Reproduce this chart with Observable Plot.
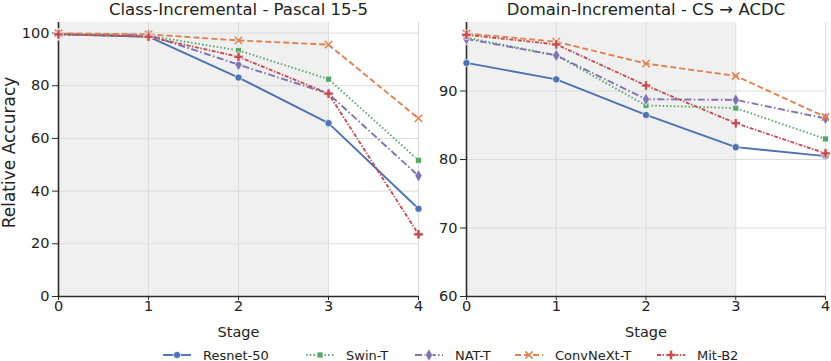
<!DOCTYPE html>
<html><head><meta charset="utf-8">
<script src="https://cdn.jsdelivr.net/npm/d3@7"></script>
<script src="https://cdn.jsdelivr.net/npm/@observablehq/plot@0.6"></script>
<style>
body{margin:0;background:#fff;font-family:"DejaVu Sans",sans-serif;}
#wrap{position:relative;width:831px;height:361px;overflow:hidden;}
#wrap > svg{position:absolute;overflow:visible;}
</style></head><body><div id="wrap"></div>
<script>
// ---- data ----
const stages = [0, 1, 2, 3, 4];
const models = ["Resnet-50", "Swin-T", "NAT-T", "ConvNeXt-T", "Mit-B2"];
const panelTitles = ["Class-Incremental - Pascal 15-5", "Domain-Incremental - CS \u2192 ACDC"];
const shadedStages = [0, 3];

// Class-Incremental - Pascal 15-5
const ciResnet50  = [99.6, 98.6, 83.1, 65.8, 33.3];
const ciSwinT     = [99.8, 99.0, 93.4, 82.5, 51.7];
const ciNatT      = [99.5, 99.3, 88.0, 77.0, 45.8];
const ciConvNeXtT = [99.9, 99.5, 97.2, 95.6, 67.6];
const ciMitB2     = [99.5, 98.6, 91.0, 77.0, 23.6];
const ciTicks = [0, 20, 40, 60, 80, 100];

// Domain-Incremental - CS -> ACDC
const diResnet50  = [94.1, 91.7, 86.5, 81.8, 80.5];
const diSwinT     = [97.8, 95.2, 87.9, 87.5, 83.0];
const diNatT      = [97.6, 95.2, 88.8, 88.7, 86.0];
const diConvNeXtT = [98.4, 97.2, 94.0, 92.2, 86.2];
const diMitB2     = [98.2, 96.8, 90.8, 85.3, 80.9];
const diTicks = [60, 70, 80, 90];

// ---- styles ----
const styles = {
  "Resnet-50":  {color: "#4c72b0", dash: null,            symbol: "circle",  r: 3.6, mode: "fill"},
  "Swin-T":     {color: "#55a868", dash: "1.5,2.2",       symbol: "square",  r: 3.4, mode: "fill"},
  "NAT-T":      {color: "#8172b3", dash: "7,2.5,1.5,2.5", symbol: "diamond", r: 3.8, mode: "fill"},
  "ConvNeXt-T": {color: "#dd8452", dash: "6,3",           symbol: "times",   r: 3.4, mode: "stroke"},
  "Mit-B2":     {color: "#c44e52", dash: "4,1.6,1.4,1.6", symbol: "cross",   r: 4.0, mode: "fill"}
};

const ciSeries = [ciResnet50, ciSwinT, ciNatT, ciConvNeXtT, ciMitB2];
const diSeries = [diResnet50, diSwinT, diNatT, diConvNeXtT, diMitB2];

function rowsOf(series) {
  return models.flatMap((m, i) => stages.map((s, j) => ({model: m, stage: s, value: series[i][j]})));
}

const FONT = "DejaVu Sans";
const GRID = "#dcdcdc";
const AXIS = "#2b2b2b";
const TXT = "#222";

function panel({series, title, ticks, domain, marginLeft, marginRight, yLabel}) {
  const data = rowsOf(series);
  const marks = [
    Plot.rect([shadedStages], {x1: d => d[0], x2: d => d[1], y1: domain[0], y2: domain[1], fill: "#f0f0f0"}),
    Plot.gridX(stages, {stroke: GRID, strokeOpacity: 1, strokeWidth: 1}),
    Plot.gridY(ticks, {stroke: GRID, strokeOpacity: 1, strokeWidth: 1}),
    Plot.axisX(stages, {tickSize: 4, tickPadding: 0, fontSize: 14.5, stroke: AXIS, color: TXT, label: null, tickFormat: d => String(d)}),
    Plot.axisY(ticks, {tickSize: 6, tickPadding: 3, fontSize: 14.5, stroke: AXIS, color: TXT, label: null}),
    Plot.ruleX([stages[0]], {stroke: AXIS, strokeWidth: 1.6}),
    Plot.ruleY([domain[0]], {stroke: AXIS, strokeWidth: 1.6}),
  ];
  for (const m of models) {
    const st = styles[m];
    const d = data.filter(r => r.model === m);
    marks.push(Plot.line(d, {x: "stage", y: "value", stroke: st.color, strokeWidth: 1.9, strokeDasharray: st.dash, strokeLinecap: "butt"}));
  }
  for (const m of models) {
    const st = styles[m];
    const d = data.filter(r => r.model === m);
    if (st.mode === "fill") {
      marks.push(Plot.dot(d, {x: "stage", y: "value", symbol: st.symbol, r: st.r, fill: st.color, stroke: "white", strokeWidth: 0.7}));
    } else {
      marks.push(Plot.dot(d, {x: "stage", y: "value", symbol: st.symbol, r: st.r, stroke: st.color, strokeWidth: 1.6}));
    }
  }
  marks.push(Plot.text([title], {frameAnchor: "top", textAnchor: "middle", lineAnchor: "middle", dy: -12.3, fontSize: 16.5, fill: TXT}));
  marks.push(Plot.text(["Stage"], {frameAnchor: "bottom", textAnchor: "middle", lineAnchor: "middle", dy: 36, fontSize: 14.5, fill: TXT}));
  if (yLabel) marks.push(Plot.text([yLabel], {frameAnchor: "left", textAnchor: "middle", lineAnchor: "middle", dx: -49, dy: -7, rotate: -90, fontSize: 17, fill: TXT}));
  return Plot.plot({
    width: 431, height: 340,
    marginTop: 22, marginBottom: 44, marginLeft, marginRight,
    x: {domain: [0, 4]},
    y: {domain},
    style: {background: "transparent", overflow: "visible", fontFamily: FONT, fontSize: "14px"},
    marks
  });
}

const wrap = document.getElementById("wrap");
const left = panel({series: ciSeries, title: panelTitles[0], ticks: ciTicks, domain: [0, 104], marginLeft: 58, marginRight: 13, yLabel: "Relative Accuracy"});
left.style.left = "0px"; left.style.top = "0px";
const right = panel({series: diSeries, title: panelTitles[1], ticks: diTicks, domain: [60, 100], marginLeft: 66, marginRight: 6, yLabel: null});
right.style.left = "400px"; right.style.top = "0px";
wrap.appendChild(left);
wrap.appendChild(right);

// ---- legend ----
const legendX = [163, 306, 415, 515, 657];
const legend = d3.create("svg").attr("width", 831).attr("height", 21)
  .style("left", "0px").style("top", "340px").style("font-family", FONT).style("font-size", "13px");
const symMap = {circle: d3.symbolCircle, square: d3.symbolSquare, diamond: d3.symbolDiamond, times: d3.symbolTimes, cross: d3.symbolCross};
models.forEach((m, i) => {
  const st = styles[m];
  const x0 = legendX[i], y = 15;
  const g = legend.append("g");
  g.append("line").attr("x1", x0).attr("x2", x0 + 28).attr("y1", y).attr("y2", y)
    .attr("stroke", st.color).attr("stroke-width", 1.9).attr("stroke-dasharray", st.dash);
  const size = Math.PI * st.r * st.r;
  const p = g.append("path").attr("transform", `translate(${x0 + 14},${y})`)
    .attr("d", d3.symbol(symMap[st.symbol], size)());
  if (st.mode === "fill") p.attr("fill", st.color).attr("stroke", "white").attr("stroke-width", 0.7);
  else p.attr("fill", "none").attr("stroke", st.color).attr("stroke-width", 1.6);
  g.append("text").attr("x", x0 + 40).attr("y", y + 4.5).attr("fill", TXT).text(m);
});
wrap.appendChild(legend.node());
</script></body></html>
